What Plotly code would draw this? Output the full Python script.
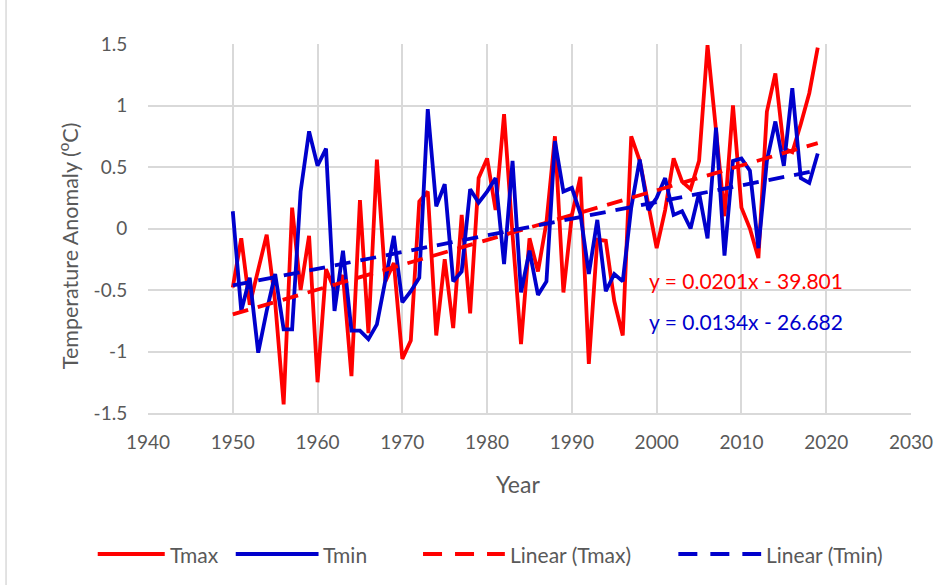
import numpy as np
import plotly.graph_objects as go

# ---- data -------------------------------------------------------------
years = list(range(1950, 2020))

tmax = [-0.48, -0.08, -0.62, -0.35, -0.05, -0.60, -1.43, 0.17, -0.50, -0.06,
        -1.25, -0.33, -0.50, -0.38, -1.20, 0.23, -0.85, 0.56, -0.43, -0.28,
        -1.06, -0.91, 0.22, 0.30, -0.87, -0.25, -0.81, 0.11, -0.69, 0.41,
        0.57, 0.15, 0.93, -0.05, -0.94, -0.08, -0.35, 0.05, 0.75, -0.52,
        0.11, 0.42, -1.10, -0.09, -0.10, -0.59, -0.87, 0.75, 0.55, 0.20,
        -0.16, 0.15, 0.57, 0.38, 0.32, 0.55, 1.49, 0.80, 0.10, 1.00,
        0.17, 0.00, -0.24, 0.95, 1.26, 0.65, 0.62, 0.85, 1.10, 1.47]

tmin = [0.14, -0.67, -0.40, -1.01, -0.67, -0.37, -0.82, -0.82, 0.30, 0.79,
        0.51, 0.65, -0.67, -0.18, -0.83, -0.83, -0.90, -0.78, -0.42, -0.06,
        -0.60, -0.51, -0.40, 0.97, 0.18, 0.36, -0.43, -0.35, 0.32, 0.21,
        0.30, 0.41, -0.29, 0.55, -0.52, -0.18, -0.54, -0.43, 0.71, 0.30,
        0.33, 0.12, -0.37, 0.07, -0.51, -0.37, -0.43, 0.17, 0.56, 0.15,
        0.25, 0.41, 0.11, 0.14, 0.00, 0.29, -0.08, 0.82, -0.22, 0.55,
        0.57, 0.47, -0.16, 0.55, 0.87, 0.51, 1.14, 0.41, 0.37, 0.61]

x_ticks = [1940, 1950, 1960, 1970, 1980, 1990, 2000, 2010, 2020, 2030]
y_ticks = [1.5, 1.0, 0.5, 0.0, -0.5, -1.0, -1.5]
y_tick_labels = ["1.5", "1", "0.5", "0", "-0.5", "-1", "-1.5"]

eq_tmax = "y = 0.0201x - 39.801"
eq_tmin = "y = 0.0134x - 26.682"

# ---- styling ----------------------------------------------------------
RED = "#FF0000"
BLUE = "#0000CC"
GRID = "#D9D9D9"
TEXT = "#595959"
FONT = "Lato, 'Open Sans', sans-serif"
LW = 3.8
DASH = "16px,10px"

W, H = 945, 585
ML, MR, MT, MB = 148, 23, 44, 172
PW, PH = W - ML - MR, H - MT - MB


def px_x(px):
    return (px - ML) / PW


def px_y(py):
    return (H - MB - py) / PH


# least-squares linear trends
span = [years[0], years[-1]]
fit_max = np.polyval(np.polyfit(years, tmax, 1), span)
fit_min = np.polyval(np.polyfit(years, tmin, 1), span)

fig = go.Figure()
fig.add_trace(go.Scatter(x=years, y=tmax, mode="lines", name="Tmax",
                         line=dict(color=RED, width=LW), showlegend=False))
fig.add_trace(go.Scatter(x=years, y=tmin, mode="lines", name="Tmin",
                         line=dict(color=BLUE, width=LW), showlegend=False))
fig.add_trace(go.Scatter(x=span, y=fit_max, mode="lines", name="Linear (Tmax)",
                         line=dict(color=RED, width=LW, dash=DASH), showlegend=False))
fig.add_trace(go.Scatter(x=span, y=fit_min, mode="lines", name="Linear (Tmin)",
                         line=dict(color=BLUE, width=LW, dash=DASH), showlegend=False))

fig.update_layout(
    width=W, height=H,
    margin=dict(l=ML, r=MR, t=MT, b=MB),
    paper_bgcolor="white", plot_bgcolor="white",
    font=dict(family=FONT, color=TEXT, size=19),
    xaxis=dict(range=[1940, 2030], tickvals=x_ticks,
               ticktext=[str(v) for v in x_ticks],
               showgrid=True, gridcolor=GRID, gridwidth=1.5,
               zeroline=False, showline=True, linecolor=GRID, linewidth=1.5,
               ticks="outside", ticklen=11, tickcolor="rgba(0,0,0,0)",
               tickfont=dict(size=19, color=TEXT)),
    yaxis=dict(range=[-1.5, 1.5], tickvals=y_ticks, ticktext=y_tick_labels,
               showgrid=True, gridcolor=GRID, gridwidth=1.5,
               zeroline=False, showline=False,
               ticks="outside", ticklen=16, tickcolor="rgba(0,0,0,0)",
               tickfont=dict(size=19, color=TEXT)),
)

annotations = [
    dict(text="Year", x=px_x(523), y=px_y(484), xref="paper", yref="paper",
         showarrow=False, font=dict(size=23, color=TEXT),
         xanchor="center", yanchor="middle"),
    dict(text="Temperature Anomaly (<sup>o</sup>C)", x=px_x(67), y=px_y(246),
         xref="paper", yref="paper", showarrow=False, textangle=-90,
         font=dict(size=21.5, color=TEXT), xanchor="center", yanchor="middle"),
    dict(text=eq_tmax, x=px_x(654), y=px_y(280), xref="paper", yref="paper",
         showarrow=False, font=dict(size=21, color=RED),
         xanchor="left", yanchor="middle"),
    dict(text=eq_tmin, x=px_x(654), y=px_y(321), xref="paper", yref="paper",
         showarrow=False, font=dict(size=21, color=BLUE),
         xanchor="left", yanchor="middle"),
]

shapes = [
    # chart-area border on the left edge
    dict(type="line", xref="paper", yref="paper",
         x0=px_x(4), x1=px_x(4), y0=px_y(0), y1=px_y(H),
         line=dict(color=GRID, width=1.5)),
]

# legend row drawn underneath the axis title
legend_items = [
    ("Tmax", RED, "solid", 97, 165),
    ("Tmin", BLUE, "solid", 237, 321),
    ("Linear (Tmax)", RED, "19px,13px", 427, 510),
    ("Linear (Tmin)", BLUE, "19px,13px", 686, 770),
]
LEG_Y = 554
for name, color, dash, x0, x1 in legend_items:
    shapes.append(dict(type="line", xref="paper", yref="paper",
                       x0=px_x(x0), x1=px_x(x1), y0=px_y(LEG_Y), y1=px_y(LEG_Y),
                       line=dict(color=color, width=4.2, dash=dash)))
    annotations.append(dict(text=name, x=px_x(x1 + 3), y=px_y(LEG_Y),
                            xref="paper", yref="paper", showarrow=False,
                            font=dict(size=21, color=TEXT),
                            xanchor="left", yanchor="middle"))

fig.update_layout(annotations=annotations, shapes=shapes)

fig.write_html("out.html")
